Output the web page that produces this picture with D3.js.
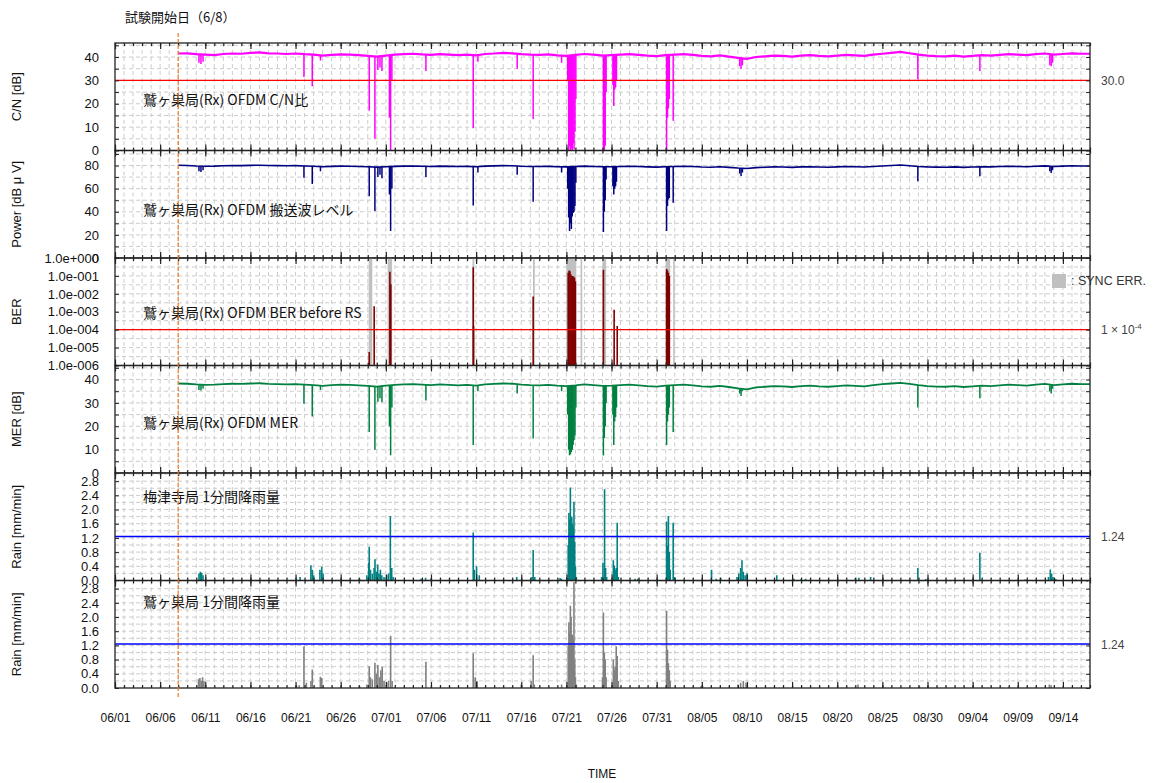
<!DOCTYPE html>
<html>
<head>
<meta charset="utf-8">
<script src="https://cdnjs.cloudflare.com/ajax/libs/d3/7.8.5/d3.min.js"></script>
<style>
body { margin: 0; background: #fff; }
text { font-family: "Liberation Sans", Arial, sans-serif; }
.jp { font-family: "Noto Sans CJK JP", sans-serif; }
</style>
</head>
<body>
<div id="graph"></div>
<script>
// ---- data (days counted from 06/01 00:00) ----
var year = "2011"
var xStart = "06/01", xEnd = "09/17"
var xLabels = ["06/01","06/06","06/11","06/16","06/21","06/26","07/01","07/06","07/11","07/16","07/21",
               "07/26","07/31","08/05","08/10","08/15","08/20","08/25","08/30","09/04","09/09","09/14"]
var testStart = "06/08"

var baseStartDay = 7   // first day of the daily baseline values below
var cnBase = [41.5,41.6,41.2,41.0,40.8,41.3,41.5,41.4, 41.8,42.0,41.6,41.5,41.3,41.5,41.2,41.0,
  40.6,40.9,41.1,41.0,40.8,40.5,40.2,40.6, 41.0,41.2,41.4,41.1,40.9,41.2,41.0,40.8,
  41.0,40.7,41.3,41.5,41.8,41.6,41.2,41.0, 40.9,41.1,40.7,40.5,40.9,41.3,41.0,40.6,
  40.8,41.0,41.2,40.9,40.6,40.4,40.8,41.0, 41.2,40.9,40.5,40.3,40.7,40.2,39.6,39.2,
  40.0,40.3,40.6,40.5,40.2,40.6,40.8,40.5, 40.3,40.6,40.9,40.7,40.5,41.0,41.4,41.8,
  42.2,41.6,41.0,40.6,40.4,40.3,40.6,40.2, 40.5,40.8,40.6,40.9,41.2,41.0,40.8,41.2,
  41.5,41.0,41.3,41.6,41.4]
var cnDips = [[9.3,37.5],[9.52,37],[9.75,38],[20.93,31.5],[21.85,27.5],[22.76,38.5],
  [28.16,17],[28.79,5],[29.12,34.5],[29.35,35.5],[29.57,34],[30.4,14],[30.53,0],[30.67,30],
  [34.44,34],[39.68,9.5],[40.2,38],[44.55,35],[46.32,13.5],[49.47,37.5],
  [50.15,30],[50.25,0],[50.35,2],[50.45,0],[50.55,1],[50.65,0],[50.75,3],[50.85,0.5],[50.95,8],[51.05,22],
  [54.1,0],[54.2,0],[54.3,2],[54.4,25],[55.15,28],[55.25,19],[55.35,26],[55.45,27],[55.55,30],
  [61.1,0],[61.2,14],[61.3,18],[61.4,22],[61.83,12.7],[69.2,36],[69.35,35],[69.5,36.5],
  [88.93,30.5],[95.8,34],[103.55,36.5],[103.7,36],[103.85,37.5]]

var pwBase = [80.2,80.0,79.6,79.4,79.5,79.8,80.0,79.9, 80.1,80.3,80.0,79.9,79.8,79.9,79.6,79.4,
  79.0,79.3,79.5,79.4,79.2,78.9,78.6,79.0, 79.3,79.5,79.6,79.4,79.2,79.5,79.3,79.1,
  79.3,79.0,79.5,79.7,79.9,79.8,79.4,79.2, 79.1,79.3,79.0,78.8,79.1,79.5,79.2,78.9,
  79.0,79.2,79.4,79.1,78.8,78.6,79.0,79.2, 79.4,79.1,78.7,78.5,78.9,78.4,77.8,77.4,
  78.2,78.5,78.8,78.7,78.4,78.8,79.0,78.7, 78.5,78.8,79.1,78.9,78.7,79.2,79.6,80.0,
  80.4,79.8,79.2,78.8,78.6,78.5,78.8,78.4, 78.7,79.0,78.8,79.1,79.4,79.2,79.0,79.4,
  79.7,79.2,79.5,79.8,79.6]
var pwDips = [[9.3,75],[9.52,74.5],[9.75,76],[20.93,69.5],[21.85,64],[22.76,75],
  [28.16,53.5],[28.79,40.6],[29.12,70],[29.35,72],[29.57,69],[30.4,55],[30.53,23.4],[30.67,60],
  [34.44,70],[39.68,45.5],[40.2,74],[44.55,72],[46.32,48.7],[49.47,74],
  [50.15,60],[50.25,35],[50.35,23.4],[50.45,30],[50.55,25],[50.65,36],[50.75,39],[50.85,40],[50.95,45],[51.05,65],
  [54.1,22.6],[54.2,40],[54.3,50],[54.4,68],[55.15,62],[55.25,55],[55.35,60],[55.45,62],[55.55,66],
  [61.1,23.4],[61.2,45],[61.3,50.7],[61.4,52],[61.83,47.8],[69.2,73],[69.35,71],[69.5,74],
  [88.93,66.4],[95.8,70.7],[103.55,75],[103.7,73.6],[103.85,76]]

var berBars = [[28.16,5.7e-6],[28.71,2e-3],[30.45,1.7e-1],[30.55,3.4e-2],[39.68,3e-1],[39.72,1.6e-4],
  [46.32,7e-3],[50.2,1.5e-1],[50.3,2e-1],[50.4,1.8e-1],[50.5,1.2e-1],[50.6,1e-1],[50.7,1e-1],
  [50.8,9e-2],[50.9,8e-2],[51.0,5e-2],[54.1,2.2e-1],[55.29,1.3e-3],[55.63,1.6e-4],
  [61.1,2.4e-1],[61.2,2e-1],[61.3,1.5e-1],[61.4,1e-1]]
var syncErr = [[28.1,28.5],[30.2,30.7],[39.6,39.8],[46.3,46.5],[50.0,51.1],[51.57,51.75],
  [54.0,54.4],[61.0,61.5],[61.83,62.0]]

var merBase = [38.3,38.2,37.9,37.7,37.8,38.0,38.2,38.1, 38.3,38.4,38.1,38.0,37.9,38.0,37.8,37.6,
  37.3,37.6,37.8,37.7,37.5,37.3,37.0,37.4, 37.7,37.9,38.0,37.8,37.6,37.9,37.7,37.5,
  37.7,37.4,37.9,38.1,38.3,38.2,37.8,37.6, 37.5,37.7,37.4,37.2,37.5,37.9,37.6,37.3,
  37.4,37.6,37.8,37.5,37.2,37.0,37.4,37.6, 37.8,37.5,37.1,36.9,37.3,36.8,36.2,35.8,
  36.6,36.9,37.2,37.1,36.8,37.2,37.4,37.1, 36.9,37.2,37.5,37.3,37.1,37.6,38.0,38.3,
  38.6,38.1,37.6,37.2,37.0,36.9,37.2,36.8, 37.1,37.4,37.2,37.5,37.8,37.6,37.4,37.8,
  38.1,37.6,37.9,38.2,38.0]
var merDips = [[9.3,35.5],[9.52,35.3],[9.75,36],[20.93,29.6],[21.85,24.2],[22.76,35.5],
  [28.16,17.5],[28.79,10],[29.12,30.5],[29.35,32],[29.57,30.3],[30.4,20],[30.53,7.6],[30.67,28],
  [34.44,31],[39.68,12],[40.2,35],[44.55,34],[46.32,14.8],[49.47,35],
  [50.15,25],[50.25,10],[50.35,7.6],[50.45,8],[50.55,9],[50.65,10],[50.75,12],[50.85,14],[50.95,16],[51.05,28],
  [54.1,7.5],[54.2,15],[54.3,20],[54.4,30],[55.15,25],[55.25,12],[55.35,22],[55.45,24],[55.55,28],
  [61.1,12],[61.2,22],[61.3,25],[61.4,28],[61.83,17.5],[69.2,34],[69.35,33],[69.5,35],
  [88.93,28],[95.8,32],[103.55,35],[103.7,34],[103.85,36]]

var rain1 = [[9.3,0.2],[9.45,0.25],[9.6,0.22],[9.75,0.15],[20.5,0.1],[21.7,0.43],[21.85,0.3],[22.0,0.15],
  [22.7,0.3],[22.9,0.39],[23.05,0.2],[27.1,0.05],[27.9,0.15],[28.1,0.5],[28.16,0.95],[28.3,0.3],[28.5,0.2],
  [28.7,0.35],[28.8,0.6],[28.95,0.25],[29.1,0.45],[29.25,0.2],[29.4,0.3],[29.55,0.15],[29.8,0.1],
  [30.1,0.15],[30.3,0.2],[30.5,1.82],[30.65,0.35],[30.8,0.1],[33.9,0.05],[34.4,0.08],[35.0,0.05],
  [39.68,1.35],[39.8,0.3],[40.05,0.4],[40.35,0.15],[44.5,0.1],[46.2,0.1],[46.32,0.86],[46.5,0.1],
  [49.3,0.07],[49.45,0.05],[50.2,1.0],[50.28,1.9],[50.36,1.7],[50.44,2.62],[50.52,1.8],[50.6,1.78],
  [50.68,1.6],[50.76,1.5],[50.84,2.22],[50.92,1.1],[51.0,0.4],[51.1,0.1],[53.9,0.1],[54.05,0.5],
  [54.23,2.57],[54.34,0.35],[54.46,0.1],[55.2,0.57],[55.3,0.42],[55.4,0.3],[55.52,0.35],[55.63,1.63],
  [55.75,0.1],[57.6,0.05],[57.9,0.05],[61.1,1.66],[61.2,0.99],[61.3,1.82],[61.4,0.8],[61.5,0.3],
  [61.83,1.63],[61.95,0.1],[66.08,0.3],[66.6,0.05],[67.1,0.08],[68.9,0.1],[69.1,0.2],[69.3,0.35],
  [69.45,0.57],[69.6,0.25],[69.8,0.15],[70.0,0.2],[73.3,0.15],[75.2,0.05],[76.0,0.04],[76.5,0.05],
  [82.0,0.06],[82.4,0.08],[83.7,0.1],[88.93,0.35],[89.8,0.04],[95.8,0.78],[100.8,0.03],
  [103.4,0.1],[103.6,0.31],[103.75,0.2],[103.9,0.1],[104.2,0.05],[106.4,0.03]]

var rain2 = [[9.25,0.25],[9.4,0.28],[9.55,0.2],[9.7,0.3],[9.85,0.2],[20.1,0.06],[20.4,0.08],[20.93,1.18],
  [21.2,0.15],[21.7,0.2],[21.85,0.52],[22.75,0.32],[22.9,0.28],[27.1,0.05],[27.9,0.1],[28.16,0.61],
  [28.3,0.3],[28.5,0.25],[28.79,0.71],[28.95,0.4],[29.12,0.65],[29.3,0.3],[29.45,0.5],[29.6,0.6],
  [29.8,0.2],[30.1,0.15],[30.3,0.2],[30.53,1.47],[30.7,0.2],[34.44,0.74],[39.68,0.98],[39.9,0.3],
  [40.1,0.2],[45.0,0.1],[46.1,0.2],[46.32,0.92],[46.45,0.1],[49.47,0.1],[50.2,1.2],[50.28,1.85],
  [50.36,1.6],[50.44,2.32],[50.52,2.0],[50.6,1.5],[50.68,1.5],[50.76,1.4],[50.84,2.99],[50.92,0.8],
  [51.0,0.3],[51.1,0.1],[54.0,0.3],[54.1,2.13],[54.2,1.0],[54.3,0.8],[54.4,0.3],[55.2,0.8],[55.3,0.5],
  [55.4,0.6],[55.52,1.18],[55.63,0.9],[55.75,0.2],[61.1,2.18],[61.2,1.08],[61.3,0.7],[61.4,0.5],
  [61.5,0.2],[64.9,0.05],[65.1,0.05],[69.0,0.1],[69.3,0.15],[69.6,0.2],[69.9,0.15],[82.3,0.1],
  [89.1,0.05],[103.5,0.1],[103.7,0.08]]

// axis ticks / labels
var cnLabels = [0,10,20,30,40], cnTicks = [0,5,10,15,20,25,30,35,40,45]
var pwLabels = [0,20,40,60,80], pwTicks = [0,10,20,30,40,50,60,70,80,90]
var berTicks = [1,1e-1,1e-2,1e-3,1e-4,1e-5,1e-6]
var berLabels = ["1.0e+000","1.0e-001","1.0e-002","1.0e-003","1.0e-004","1.0e-005","1.0e-006"]
var berGrid = [3.16e-1,1e-1,3.16e-2,1e-2,3.16e-3,1e-3,3.16e-4,1e-4,3.16e-5,1e-5,3.16e-6]
var rainLabels = [0,0.4,0.8,1.2,1.6,2.0,2.4,2.8]
var rainGrid = [0.2,0.4,0.6,0.8,1.0,1.2,1.4,1.6,1.8,2.0,2.2,2.4,2.6,2.8,3.0]
var cnLimit = 30, berLimit = 1e-4, rainLimit = 1.24

var titles = ["C/N [dB]", "Power [dB μ V]", "BER", "MER [dB]", "Rain [mm/min]", "Rain [mm/min]"]
var names = ["鷲ヶ巣局(Rx) OFDM C/N比", "鷲ヶ巣局(Rx) OFDM 搬送波レベル", "鷲ヶ巣局(Rx) OFDM BER before RS",
             "鷲ヶ巣局(Rx) OFDM MER", "梅津寺局 1分間降雨量", "鷲ヶ巣局 1分間降雨量"]

// ---- layout ----
var width = 1157, height = 783
var left = 115, right = 1090, top0 = 43, panelH = 107.5
var svg = d3.select("#graph").append("svg").attr("width", width).attr("height", height)

var parse = d3.utcParse("%Y/%m/%d")
var t0 = parse(year + "/" + xStart)
var x = d3.scaleUtc().domain([t0, parse(year + "/" + xEnd)]).range([left, right])
function xd(d) { return x(new Date(+t0 + d * 864e5)) }

var panels = [
  {y: d3.scaleLinear().domain([0, 46]), labels: cnLabels, fmt: String, ticks: cnTicks, grid: cnTicks.slice(1), color: "#ff00ff", base: cnBase, dips: cnDips, lw: 2.2, limit: cnLimit, limitColor: "#ff0000", limitText: "30.0", labelDy: 57},
  {y: d3.scaleLinear().domain([0, 93]), labels: pwLabels, fmt: String, ticks: pwTicks, grid: pwTicks.slice(1), color: "#000080", base: pwBase, dips: pwDips, lw: 1.6, labelDy: 59},
  {y: d3.scaleLog().domain([1e-6, 1]), labels: berTicks, fmt: function(d, i) { return berLabels[i] }, ticks: berTicks, grid: berGrid, color: "#800000", bars: berBars, limit: berLimit, limitColor: "#ff0000", limitText: "ber", labelDy: 55},
  {y: d3.scaleLinear().domain([0, 46]), labels: cnLabels, fmt: String, ticks: cnTicks, grid: cnTicks.slice(1), color: "#008040", base: merBase, dips: merDips, lw: 1.8, labelDy: 57},
  {y: d3.scaleLinear().domain([0, 3.03]), labels: rainLabels, fmt: d3.format(".1f"), ticks: rainLabels, grid: rainGrid, color: "#008080", bars: rain1, limit: rainLimit, limitColor: "#0000ff", limitText: "1.24", labelDy: 24},
  {y: d3.scaleLinear().domain([0, 3.03]), labels: rainLabels, fmt: d3.format(".1f"), ticks: rainLabels, grid: rainGrid, color: "#808080", bars: rain2, limit: rainLimit, limitColor: "#0000ff", limitText: "1.24", labelDy: 21}
]

var days = x.ticks(d3.utcDay.every(1))
var majors = xLabels.map(function(l) { return parse(year + "/" + l) })

panels.forEach(function(p, i) {
  var pt = top0 + i * panelH, pb = pt + panelH
  var y = p.y.range([pb, pt])
  var g = svg.append("g")
  var clipId = "clip" + i
  svg.append("clipPath").attr("id", clipId).append("rect")
    .attr("x", left).attr("y", pt).attr("width", right - left).attr("height", panelH)

  // grid
  g.append("g").selectAll("line").data(days.slice(1, -1)).enter().append("line")
    .attr("x1", d => x(d)).attr("x2", d => x(d)).attr("y1", pt).attr("y2", pb)
    .attr("stroke", "#cccccc").attr("stroke-dasharray", "4,3")
  g.append("g").selectAll("line").data(p.grid).enter().append("line")
    .attr("x1", left).attr("x2", right).attr("y1", d => y(d)).attr("y2", d => y(d))
    .attr("stroke", "#cccccc").attr("stroke-dasharray", "4,3")

  var data = g.append("g").attr("clip-path", "url(#" + clipId + ")")
  if (i == 2) {
    data.selectAll("rect.sync").data(syncErr).enter().append("rect")
      .attr("x", d => xd(d[0])).attr("width", d => Math.max(1, xd(d[1]) - xd(d[0])))
      .attr("y", pt).attr("height", panelH).attr("fill", "#c0c0c0")
  }
  if (p.base) {
    var line = d3.line().x((d, k) => xd(baseStartDay + k)).y(d => y(d))
    data.append("path").datum(p.base.concat([p.base[p.base.length - 1]]))
      .attr("d", line).attr("fill", "none").attr("stroke", p.color).attr("stroke-width", p.lw)
    data.selectAll("line.dip").data(p.dips).enter().append("line")
      .attr("x1", d => xd(d[0])).attr("x2", d => xd(d[0]))
      .attr("y1", d => y(p.base[Math.round(d[0]) - baseStartDay]))
      .attr("y2", d => y(d[1]))
      .attr("stroke", p.color).attr("stroke-width", 1.5)
  }
  if (p.bars) {
    data.selectAll("line.bar").data(p.bars).enter().append("line")
      .attr("x1", d => xd(d[0])).attr("x2", d => xd(d[0]))
      .attr("y1", y(p.y.domain()[0])).attr("y2", d => y(d[1]))
      .attr("stroke", p.color).attr("stroke-width", 1.6)
  }
  if (p.limit) {
    g.append("line").attr("x1", left).attr("x2", right)
      .attr("y1", y(p.limit)).attr("y2", y(p.limit))
      .attr("stroke", p.limitColor).attr("stroke-width", 1.4)
    var lt = g.append("text").attr("x", 1101).attr("y", y(p.limit) + 4.5)
      .attr("font-size", 12).attr("fill", "#444")
    if (p.limitText == "ber") {
      lt.text("1 × 10")
      lt.append("tspan").attr("dy", -5).attr("font-size", 8).text("-4")
    } else lt.text(p.limitText)
  }

  // border
  g.append("rect").attr("x", left).attr("y", pt).attr("width", right - left).attr("height", panelH)
    .attr("fill", "none").attr("stroke", "#222").attr("stroke-width", 1.3)

  // x ticks top/bottom, pointing inward
  function xTicks(axis, ty, vals, size) {
    g.append("g").attr("transform", "translate(0," + ty + ")")
      .call(axis(x).tickValues(vals).tickSize(size).tickFormat(""))
      .call(s => s.select(".domain").remove())
      .selectAll("line").attr("stroke", "#222").attr("stroke-width", 1.2)
  }
  xTicks(d3.axisTop, pt, days, -3)
  xTicks(d3.axisTop, pt, majors, -6)
  xTicks(d3.axisBottom, pb, days, -3)
  xTicks(d3.axisBottom, pb, majors, -6)

  // y ticks both sides, labels left
  g.append("g").attr("transform", "translate(" + left + ",0)")
    .call(d3.axisLeft(y).tickValues(p.ticks).tickSize(-4).tickFormat(""))
    .call(s => s.select(".domain").remove())
    .selectAll("line").attr("stroke", "#222")
  g.append("g").attr("transform", "translate(" + right + ",0)")
    .call(d3.axisRight(y).tickValues(p.ticks).tickSize(-4).tickFormat(""))
    .call(s => s.select(".domain").remove())
    .selectAll("line").attr("stroke", "#222")
  g.append("g").attr("transform", "translate(" + left + ",0)")
    .call(d3.axisLeft(y).tickValues(p.labels).tickSize(0).tickPadding(16).tickFormat(p.fmt))
    .call(s => s.select(".domain").remove())
    .selectAll("text").attr("font-size", 13).attr("fill", "#111")
    .attr("font-family", "Liberation Sans, Arial, sans-serif")

  // titles
  svg.append("text").attr("transform", "translate(21," + (pt + panelH / 2) + ") rotate(-90)")
    .attr("text-anchor", "middle").attr("font-size", 13).attr("fill", "#111").text(titles[i])
  svg.append("text").attr("class", "jp").attr("x", 143).attr("y", pt + p.labelDy + 5)
    .attr("font-size", 14).attr("fill", "#111").text(names[i])
})

// sync err legend
svg.append("rect").attr("x", 1052).attr("y", 274).attr("width", 14).attr("height", 14).attr("fill", "#c0c0c0")
svg.append("text").attr("x", 1071).attr("y", 285).attr("font-size", 12.5).attr("fill", "#333").text(": SYNC ERR.")

// test start marker
var xs = x(parse(year + "/" + testStart))
svg.append("line").attr("x1", xs).attr("x2", xs).attr("y1", 33).attr("y2", 699)
  .attr("stroke", "#f07828").attr("stroke-width", 1.2).attr("stroke-dasharray", "4,2")
svg.append("text").attr("class", "jp").attr("x", 125).attr("y", 22).attr("font-size", 13)
  .attr("fill", "#111").text("試験開始日（6/8）")

// x labels
svg.append("g").attr("transform", "translate(0," + (top0 + 6 * panelH) + ")")
  .call(d3.axisBottom(x).tickValues(majors).tickSize(0).tickPadding(25).tickFormat((d, i) => xLabels[i]))
  .call(s => s.select(".domain").remove())
  .selectAll("text").attr("font-size", 12).attr("fill", "#111")
  .attr("font-family", "Liberation Sans, Arial, sans-serif")
svg.append("text").attr("x", 602).attr("y", 778).attr("text-anchor", "middle")
  .attr("font-size", 12).attr("fill", "#111").text("TIME")
</script>
</body>
</html>
